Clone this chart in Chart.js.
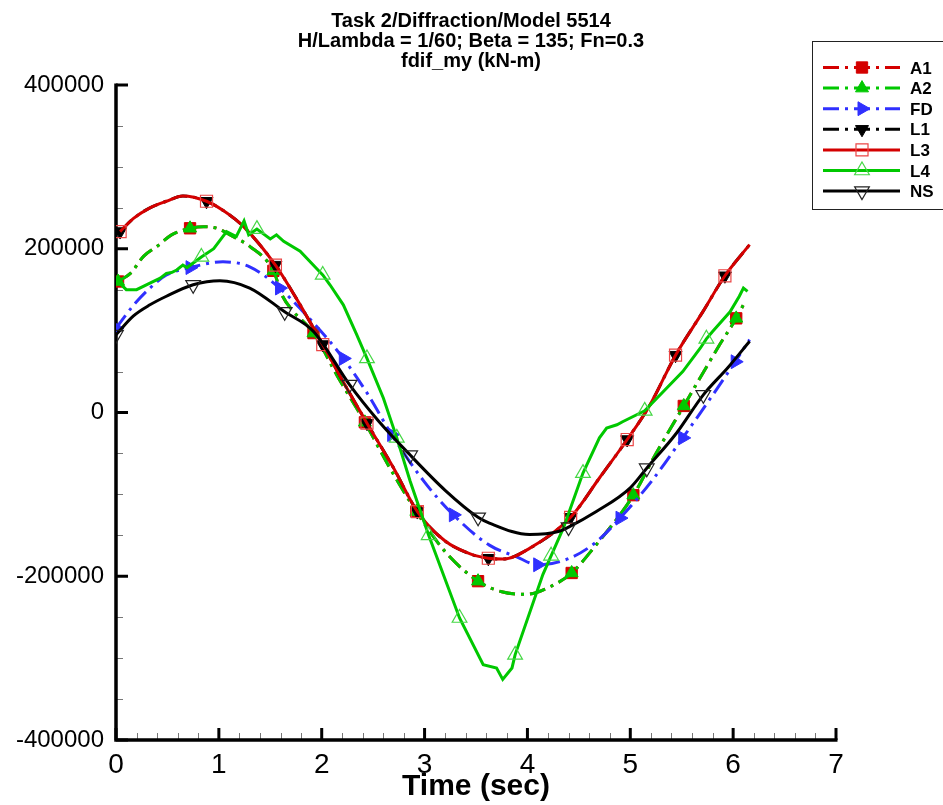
<!DOCTYPE html>
<html>
<head>
<meta charset="utf-8">
<script src="https://cdn.jsdelivr.net/npm/chart.js@4/dist/chart.umd.min.js"></script>
<style>
  body { margin: 0; background: #fff; }
  #wrap { width: 943px; height: 805px; }
</style>
</head>
<body>
<div id="wrap"><canvas id="chart" width="943" height="805"></canvas></div>
<script>
// fdif_my (kN-m) against time (sec)
const tA = [0.02, 0.14, 0.27, 0.40, 0.54, 0.72, 0.85, 0.98, 1.15, 1.30, 1.53, 1.62, 1.72, 1.92, 2.15, 2.42, 2.65, 2.92, 3.20, 3.52, 3.75, 3.99, 4.20, 4.43, 4.64, 5.03, 5.25, 5.52, 5.87, 6.03, 6.11]
const a1Values = [160000, 170000, 191000, 203000, 217000, 225000, 227000, 225000, 214000, 203000, 173000, 142000, 124000, 97000, 45000, -12000, -65000, -121000, -170000, -206000, -219000, -222000, -214000, -196000, -166000, -101000, -50000, 8000, 83000, 115000, 134000]
const a2Values = [160000, 170000, 191000, 203000, 217000, 225000, 227000, 225000, 214000, 203000, 173000, 142000, 124000, 97000, 45000, -12000, -65000, -121000, -170000, -206000, -219000, -222000, -214000, -196000, -166000, -101000, -50000, 8000, 83000, 115000, 134000]
const markA = [0, 5, 10, 13, 15, 17, 19, 23, 25, 27, 29]

const tL = [0.04, 0.17, 0.33, 0.49, 0.65, 0.88, 1.05, 1.24, 1.55, 1.75, 2.01, 2.22, 2.44, 2.70, 2.93, 3.20, 3.45, 3.62, 3.76, 4.02, 4.42, 4.70, 4.97, 5.19, 5.44, 5.70, 5.92, 6.16]
const l1Values = [221000, 237000, 250000, 258000, 264500, 258000, 246000, 227000, 180000, 140000, 83000, 35000, -13000, -68000, -121000, -157000, -173000, -178000, -179000, -166000, -128000, -80000, -33000, 9000, 70000, 122000, 167000, 205000]
const l3Values = [221000, 237000, 250000, 258000, 264500, 258000, 246000, 227000, 180000, 140000, 83000, 35000, -13000, -68000, -121000, -157000, -173000, -178000, -179000, -166000, -128000, -80000, -33000, 9000, 70000, 122000, 167000, 205000]
const markL = [0, 5, 8, 10, 12, 14, 17, 20, 22, 24, 26]

const tFD = [0.00, 0.17, 0.33, 0.49, 0.72, 1.04, 1.30, 1.59, 1.79, 2.05, 2.21, 2.45, 2.68, 3.00, 3.28, 3.63, 3.89, 4.10, 4.41, 4.67, 4.90, 5.20, 5.51, 5.75, 6.02, 6.16]
const fdValues = [103000, 131000, 152000, 168000, 177000, 184000, 178000, 152000, 127000, 91000, 66000, 22000, -27000, -85000, -125000, -162000, -176000, -186000, -178000, -158000, -129000, -85000, -31000, 12000, 62000, 89000]
const markFD = [0, 4, 7, 10, 12, 14, 17, 20, 22, 24]

const tNS = [0.00, 0.17, 0.33, 0.49, 0.75, 1.01, 1.30, 1.64, 1.92, 2.27, 2.55, 2.86, 3.20, 3.52, 3.63, 4.02, 4.31, 4.40, 4.67, 5.00, 5.16, 5.45, 5.71, 5.95, 6.16]
const nsValues = [95000, 118000, 131500, 142000, 156000, 161000, 152000, 123000, 99000, 34000, -10000, -52000, -95000, -128000, -135000, -149000, -145000, -140000, -121000, -92000, -68000, -25000, 21600, 55000, 87000]
const markNS = [0, 4, 7, 9, 11, 13, 17, 20, 22]

const tL4 = [0.02, 0.10, 0.20, 0.33, 0.43, 0.49, 0.54, 0.59, 0.65, 0.69, 0.83, 0.95, 1.075, 1.17, 1.245, 1.29, 1.37, 1.50, 1.56, 1.63, 1.79, 1.98, 2.01, 2.08, 2.21, 2.34, 2.44, 2.60, 2.73, 2.86, 3.04, 3.34, 3.57, 3.70, 3.76, 3.85, 3.88, 4.15, 4.23, 4.35, 4.54, 4.70, 4.77, 4.87, 4.93, 5.14, 5.51, 5.68, 5.74, 5.80, 5.97, 6.06, 6.10, 6.14]
const l4Values = [160000, 150000, 150000, 158000, 164000, 170000, 171000, 174000, 180000, 177000, 190000, 200000, 221000, 215000, 234000, 217000, 224000, 212000, 217000, 209000, 197000, 172000, 168000, 156000, 131500, 95000, 66000, 17500, -31000, -84000, -150000, -251000, -308000, -312000, -326000, -312000, -296000, -198000, -175000, -141000, -74000, -31000, -19000, -15000, -11000, 2000, 50000, 78500, 90000, 99000, 123000, 142000, 152000, 148000]
const markL4 = [10, 16, 22, 26, 28, 30, 31, 36, 38, 40, 45, 48]

const xTicks = [0, 1, 2, 3, 4, 5, 6, 7]
const yTicks = [-400000, -200000, 0, 200000, 400000]
const titleLines = ['Task 2/Diffraction/Model 5514', 'H/Lambda = 1/60; Beta = 135; Fn=0.3', 'fdif_my (kN-m)']

const RED = 'rgb(212,0,0)'
const GREEN = 'rgb(0,200,0)'
const BLUE = 'rgb(48,48,255)'
const DASHDOT = [16, 6, 3, 6]

const pts = (ts, vs) => ts.map((t, i) => ({ x: t, y: vs[i] }))

function series(label, ts, vs, marks, o) {
  return {
    label,
    data: pts(ts, vs),
    borderColor: o.color,
    borderWidth: 3,
    borderDash: o.dash || [],
    cubicInterpolationMode: o.smooth === false ? 'default' : 'monotone',
    tension: o.smooth === false ? 0 : 0.4,
    fill: false,
    pointStyle: o.style,
    rotation: o.rot || 0,
    pointRadius: c => marks.includes(c.dataIndex) ? o.r : 0,
    pointBackgroundColor: o.open ? 'rgba(0,0,0,0)' : o.color,
    pointBorderColor: o.mcolor || o.color,
    pointBorderWidth: o.open ? 1.2 : 1,
    order: o.order,
    markR: o.r
  }
}

const datasets = [
  series('A1', tA, a1Values, markA, { color: RED, dash: DASHDOT, style: 'rect', r: 8, order: 7 }),
  series('A2', tA, a2Values, markA, { color: GREEN, dash: DASHDOT, style: 'triangle', r: 7.5, order: 6 }),
  series('FD', tFD, fdValues, markFD, { color: BLUE, dash: DASHDOT, style: 'triangle', rot: 90, r: 8, order: 5 }),
  series('L1', tL, l1Values, markL, { color: '#000', dash: DASHDOT, style: 'triangle', rot: 180, r: 7.5, order: 4 }),
  series('L3', tL, l3Values, markL, { color: RED, style: 'rect', r: 8.5, open: true, mcolor: 'rgb(235,70,70)', order: 3 }),
  series('L4', tL4, l4Values, markL4, { color: GREEN, style: 'triangle', r: 8.5, open: true, mcolor: 'rgb(70,215,70)', smooth: false, order: 2 }),
  series('NS', tNS, nsValues, markNS, { color: '#000', style: 'triangle', rot: 180, r: 8.5, open: true, mcolor: '#222', order: 1 })
]

// axes lines with inward major/minor ticks, title and boxed legend
const framePlugin = {
  id: 'frame',
  beforeDatasetsDraw(chart) {
    const { ctx, chartArea: a, scales: { x, y } } = chart
    ctx.save()
    // minor ticks
    ctx.lineWidth = 1
    ctx.strokeStyle = '#777'
    for (let v = -400000; v <= 400000; v += 50000) {
      if (v % 200000 === 0) continue
      const py = Math.round(y.getPixelForValue(v)) + 0.5
      ctx.beginPath(); ctx.moveTo(a.left, py); ctx.lineTo(a.left + 7, py); ctx.stroke()
    }
    for (let i = 0; i <= 35; i++) {
      if (i % 5 === 0) continue
      const px = Math.round(x.getPixelForValue(i * 0.2)) + 0.5
      ctx.beginPath(); ctx.moveTo(px, a.bottom); ctx.lineTo(px, a.bottom - 7); ctx.stroke()
    }
    // major ticks
    ctx.strokeStyle = '#000'
    ctx.lineWidth = 3
    yTicks.forEach(v => {
      const py = y.getPixelForValue(v)
      ctx.beginPath(); ctx.moveTo(a.left, py); ctx.lineTo(a.left + 12, py); ctx.stroke()
    })
    xTicks.forEach(v => {
      const px = x.getPixelForValue(v)
      ctx.beginPath(); ctx.moveTo(px, a.bottom); ctx.lineTo(px, a.bottom - 12); ctx.stroke()
    })
    // spines
    ctx.lineWidth = 3.5
    ctx.beginPath()
    ctx.moveTo(a.left, a.top - 1.5)
    ctx.lineTo(a.left, a.bottom)
    ctx.lineTo(a.right + 1.5, a.bottom)
    ctx.stroke()
    ctx.restore()
  },
  afterDraw(chart) {
    const { ctx } = chart
    ctx.save()
    // title
    ctx.fillStyle = '#000'
    ctx.textAlign = 'center'
    ctx.textBaseline = 'alphabetic'
    ctx.font = 'bold 20px "Liberation Sans", Arial, sans-serif'
    titleLines.forEach((s, i) => ctx.fillText(s, 471, 27 + i * 20))
    // legend
    ctx.lineWidth = 1
    ctx.strokeStyle = '#222'
    ctx.strokeRect(812.5, 41.5, 140, 168)
    ctx.font = 'bold 17px "Liberation Sans", Arial, sans-serif'
    ctx.textAlign = 'left'
    chart.data.datasets.forEach((ds, i) => {
      const ly = 67.5 + i * 20.6
      ctx.setLineDash(ds.borderDash)
      ctx.strokeStyle = ds.borderColor
      ctx.lineWidth = 3
      ctx.beginPath(); ctx.moveTo(823, ly); ctx.lineTo(900, ly); ctx.stroke()
      ctx.setLineDash([])
      ctx.fillStyle = ds.pointBackgroundColor
      ctx.strokeStyle = ds.pointBorderColor
      ctx.lineWidth = ds.pointBorderWidth
      Chart.helpers.drawPoint(ctx, {
        pointStyle: ds.pointStyle, rotation: ds.rotation, radius: ds.markR, borderWidth: ds.pointBorderWidth
      }, 862, ly)
      ctx.fillStyle = '#000'
      ctx.fillText(ds.label, 910, ly + 6)
    })
    ctx.restore()
  }
}

new Chart(document.getElementById('chart'), {
  type: 'line',
  data: { datasets },
  options: {
    responsive: false,
    animation: false,
    devicePixelRatio: 1,
    layout: { padding: { left: 0, top: 85, right: 107, bottom: 0 } },
    plugins: { legend: { display: false }, tooltip: { enabled: false }, title: { display: false } },
    scales: {
      x: {
        type: 'linear', min: 0, max: 7,
        afterFit: s => { s.height = 65 },
        afterBuildTicks: s => { s.ticks = xTicks.map(v => ({ value: v })) },
        grid: { display: false, drawTicks: false },
        border: { display: false },
        ticks: { color: '#000', padding: 8, maxRotation: 0, autoSkip: false,
          font: { family: '"Liberation Sans Narrow", "Liberation Sans", Arial', size: 28 } },
        title: { display: true, text: 'Time (sec)', color: '#000', padding: { top: 0, bottom: 0 },
          font: { family: '"Liberation Sans", Arial', weight: 'bold', size: 30 } }
      },
      y: {
        type: 'linear', min: -400000, max: 400000,
        afterFit: s => { s.width = 116 },
        afterBuildTicks: s => { s.ticks = yTicks.map(v => ({ value: v })) },
        grid: { display: false, drawTicks: false },
        border: { display: false },
        ticks: { color: '#000', padding: 12, callback: v => String(v),
          font: { family: '"Liberation Sans", Arial', size: 24 } }
      }
    }
  },
  plugins: [framePlugin]
})
</script>
</body>
</html>
